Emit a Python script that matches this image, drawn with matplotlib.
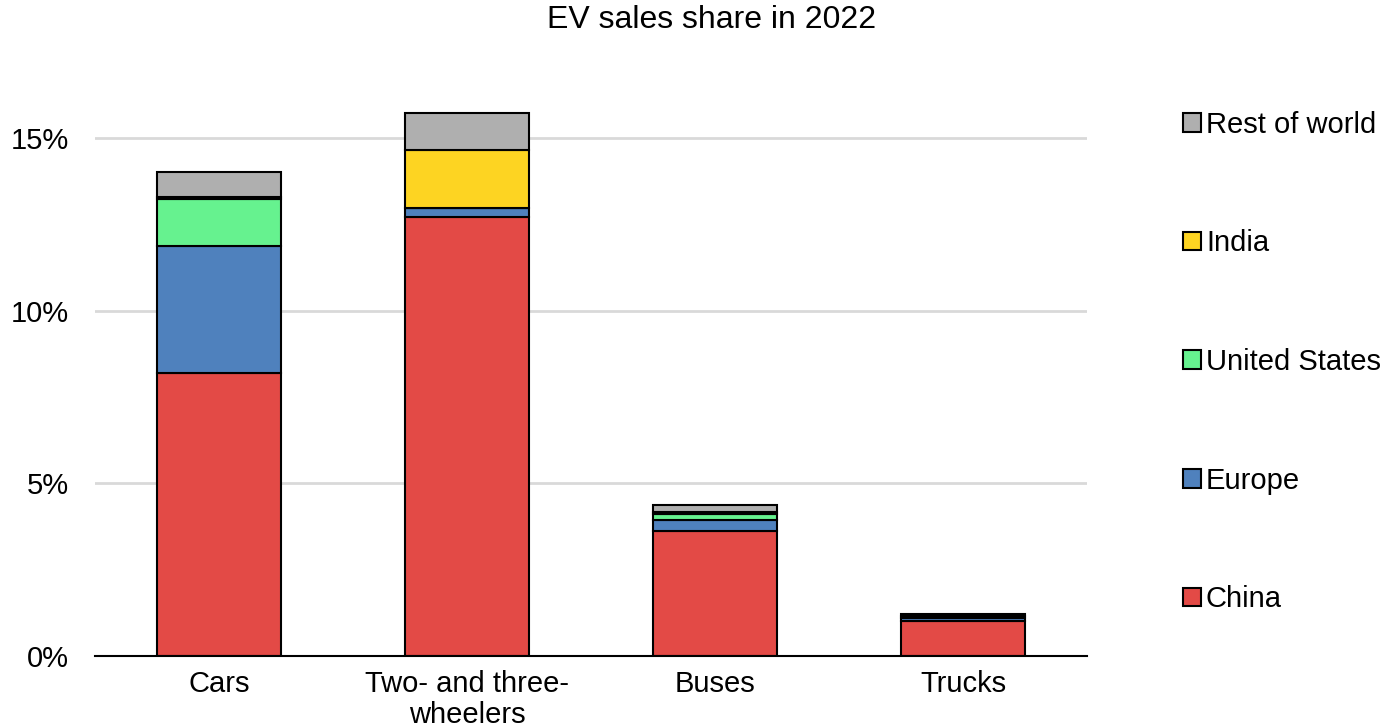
import matplotlib.pyplot as plt
import numpy as np

plt.rcParams['font.family'] = ['Liberation Sans', 'DejaVu Sans']

# EV sales share in 2022 (%)
categories = ['Cars', 'Two- and three-\nwheelers', 'Buses', 'Trucks']
regions = ['China', 'Europe', 'United States', 'India', 'Rest of world']
china = [8.20, 12.71, 3.63, 1.02]
europe = [3.67, 0.26, 0.31, 0.08]
united_states = [1.37, 0.01, 0.16, 0.05]
india = [0.06, 1.68, 0.06, 0.02]
rest_of_world = [0.72, 1.07, 0.22, 0.06]

series = [china, europe, united_states, india, rest_of_world]
colors = ['#e34a46', '#4f81bd', '#66f28f', '#fdd422', '#afafaf']

fig = plt.figure(figsize=(13.85, 7.28), dpi=100)
ax = fig.add_axes([0.0686, 0.0989, 0.7164, 0.83])

x = np.arange(len(categories))
bottom = np.zeros(len(categories))
for name, vals, c in zip(regions, series, colors):
    ax.bar(x, vals, 0.5, bottom=bottom, color=c, edgecolor='black',
           linewidth=1.5, label=name, zorder=3)
    bottom += np.array(vals)

ax.set_xlim(-0.5, 3.5)
ax.set_ylim(0, 17.5)
ax.set_yticks([0, 5, 10, 15])
ax.set_yticklabels(['0%', '5%', '10%', '15%'])
ax.set_xticks(x)
ax.set_xticklabels(categories, linespacing=1.15)
ax.tick_params(axis='both', length=0, labelsize=21)
ax.tick_params(axis='y', pad=19)
ax.tick_params(axis='x', pad=10)
ax.yaxis.grid(True, color='#d9d9d9', linewidth=2, zorder=0)
for s in ['top', 'right', 'left']:
    ax.spines[s].set_visible(False)
ax.spines['bottom'].set_linewidth(1.5)
ax.spines['bottom'].set_zorder(4)

fig.text(712 / 1385, 1 - 20 / 728, 'EV sales share in 2022', ha='center',
         va='center', fontsize=23)

handles, labels = ax.get_legend_handles_labels()
ax.legend(handles[::-1], labels[::-1], loc='center left',
          bbox_to_anchor=(1.097, 0.4865), frameon=False, fontsize=21,
          labelspacing=3.11, handlelength=0.6, handleheight=0.6,
          handletextpad=0.17, borderaxespad=0, borderpad=0)

plt.savefig('out.png', dpi=100)
